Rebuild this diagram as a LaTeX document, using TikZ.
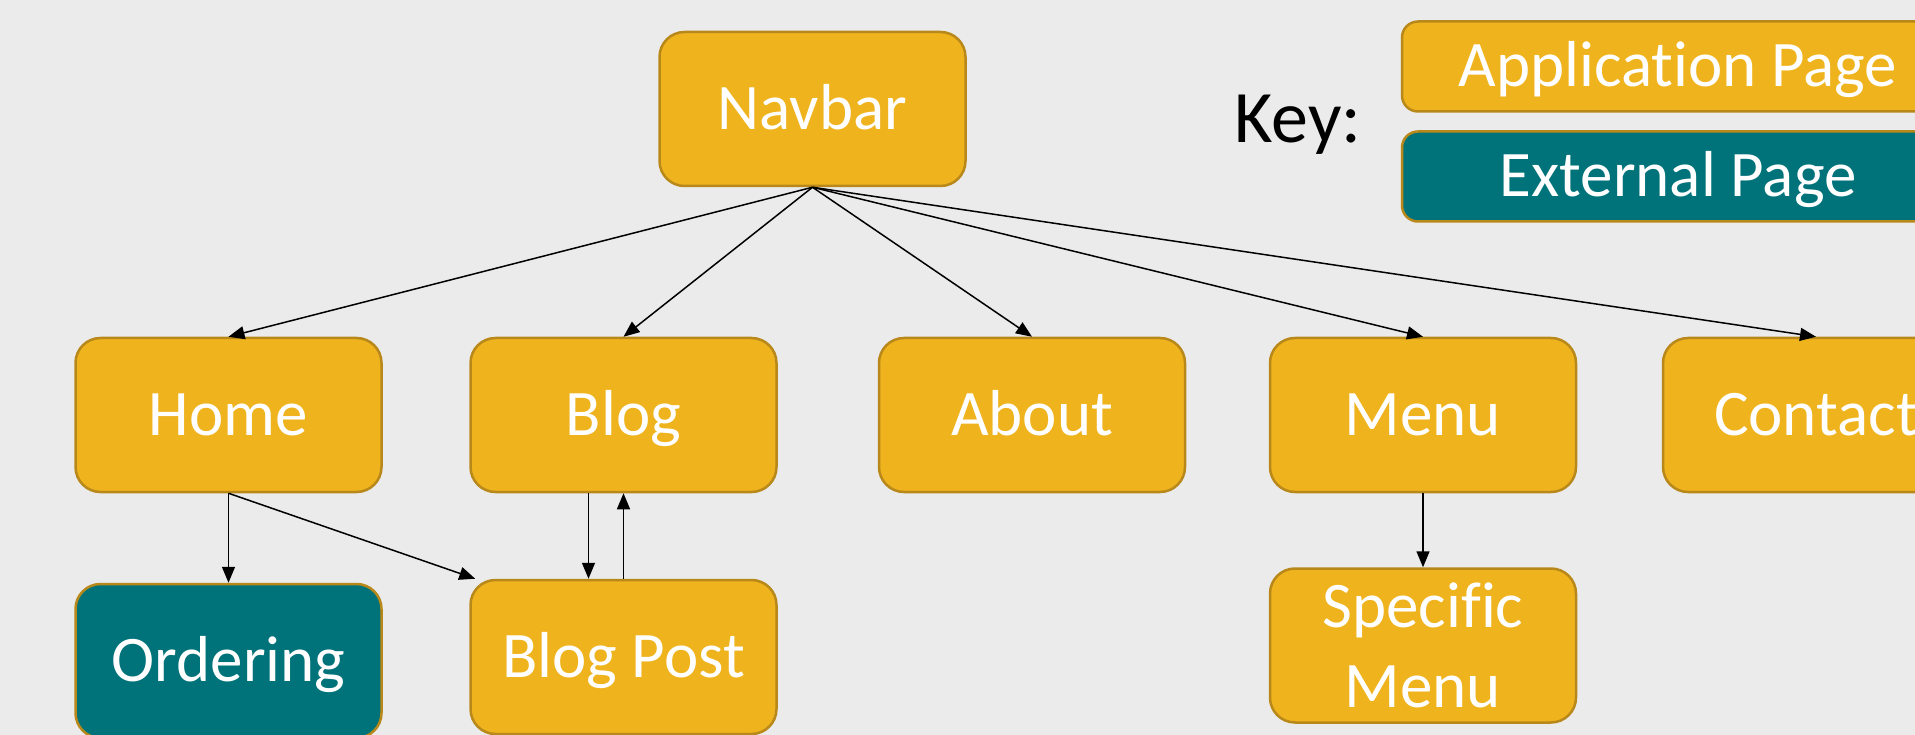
\documentclass[tikz,border=0pt]{standalone}
\usepackage{fontspec}
\setmainfont{Carlito}[Ligatures=NoCommon]
\usetikzlibrary{arrows.meta}
\definecolor{pagegold}{HTML}{EFB31E}
\definecolor{pageedge}{HTML}{B8891A}
\definecolor{extteal}{HTML}{00737A}
\definecolor{canvas}{HTML}{EBEBEB}
\begin{document}
\begin{tikzpicture}[x=1pt, y=-1pt,
    pagebase/.style={draw=pageedge, line width=2.5pt, fill=pagegold, rounded corners=25pt,
        text=white, minimum width=306pt, minimum height=154pt, align=center,
        font=\fontsize{65}{80}\selectfont},
    page/.style={pagebase, text height=41pt, text depth=0pt},
    extpage/.style={page, fill=extteal},
    keybox/.style={page, rounded corners=16pt, minimum width=552pt, minimum height=90pt},
    link/.style={-{Triangle[length=16pt, width=13pt]}, line width=1.5pt}]
    % Background and frame
    \fill[canvas] (0,0) rectangle (1915,735);
    \useasboundingbox (0,0) rectangle (1915,735);

    % Top level
    \node[page] (navbar) at (812.5,109) {Navbar};

    % Key
    \node[font=\fontsize{74}{80}\selectfont, text height=46pt, text depth=0pt]
        (key) at (1298,120) {Key:};
    \node[keybox] (keyapp) at (1678,66.5) {Application Page};
    \node[keybox, fill=extteal] (keyext) at (1678,176.5) {External Page};

    % Pages in the navbar
    \node[page] (home) at (228.5,415) {Home};
    \node[page] (blog) at (623.5,415) {Blog};
    \node[page] (about) at (1032,415) {About};
    \node[page] (menu) at (1423,415) {Menu};
    \node[page] (contact) at (1816,415) {Contact};

    % Pages below
    \node[extpage] (ordering) at (228.5,661) {Ordering};
    \node[page] (blogpost) at (623.5,657) {Blog Post};
    \node[pagebase] (specific) at (1423,645.5) {Specific\\Menu};

    % Links
    \foreach \p in {home, blog, about, menu, contact} {
        \draw[link] (navbar.south) -- (\p.north);
    }
    \draw[link] (home.south) -- (ordering.north);
    \draw[link] (home.south) -- ([xshift=6pt]blogpost.north west);
    \draw[link] ([xshift=-35pt]blog.south) -- ([xshift=-35pt]blogpost.north);
    \draw[link] (blogpost.north) -- (blog.south);
    \draw[link] (menu.south) -- (specific.north);
\end{tikzpicture}
\end{document}
